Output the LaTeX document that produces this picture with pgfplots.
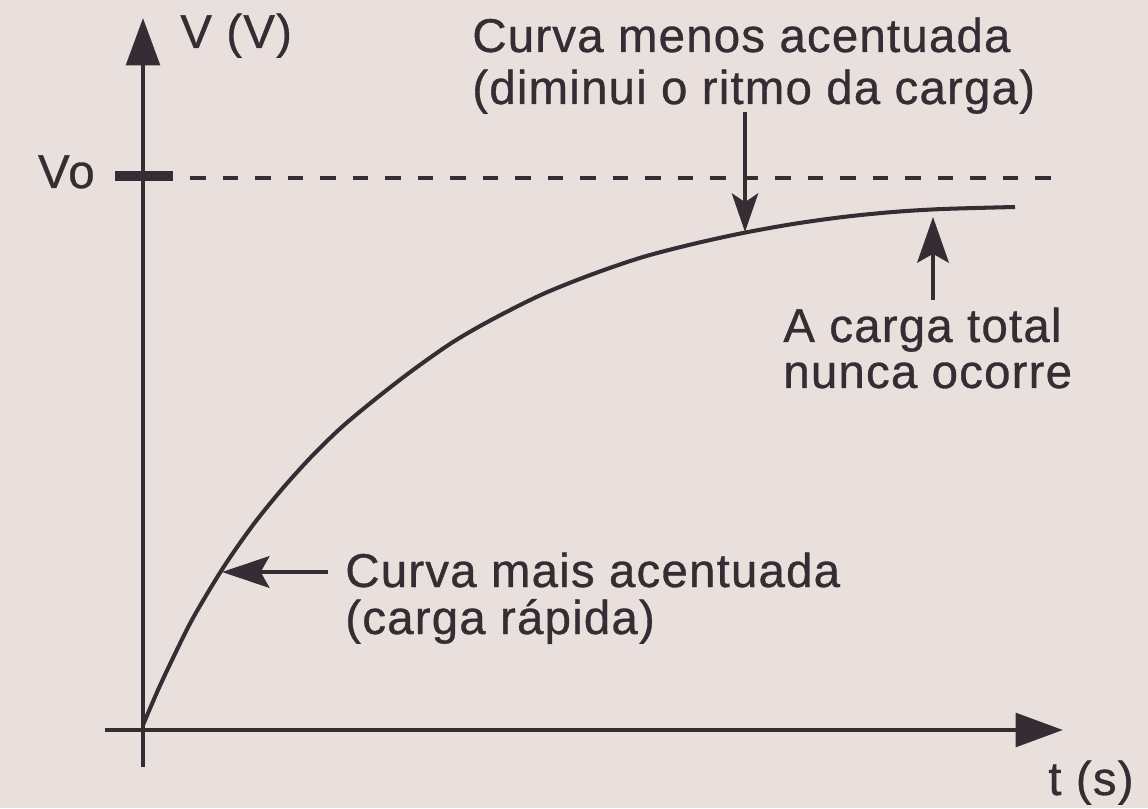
\documentclass[border=0pt]{standalone}
\usepackage{pgfplots}
\pgfplotsset{compat=1.18}
\usepackage{fontspec}
\setmainfont[FakeBold=0.7, LetterSpace=2.5]{Liberation Sans}
\usetikzlibrary{arrows.meta}
\definecolor{paper}{RGB}{233,224,222}
\definecolor{ink}{RGB}{52,46,52}
\tikzset{lab/.style={text=ink, inner sep=0pt, font=\fontsize{27}{30}\selectfont}}

\begin{document}
\begin{tikzpicture}[x=0.02cm,y=0.02cm]
% paper background, same size as the scan
\fill[paper] (-143,-78) rectangle (1005,730);
\begin{axis}[
    anchor=origin, at={(0,0)},
    x=0.02cm, y=0.02cm,
    xmin=-38, xmax=920,
    ymin=-37, ymax=712,
    axis lines=middle,
    xtick=\empty, ytick=\empty,
    clip=false,
    axis line style={ink, line width=2.8pt},
    x axis line style={-{Triangle[length=27pt,width=19pt]}},
    y axis line style={-{Triangle[length=27pt,width=19pt]}},
]
% Vo level
\addplot[ink, line width=5.5pt] coordinates {(-28,554) (30,554)};
\addplot[ink, line width=2.2pt, dash pattern=on 9pt off 9.5pt] coordinates {(47,552) (915,552)};

% charging curve
\addplot[ink, line width=2.3pt, smooth] coordinates {
    (0,5) (15,40) (30,72) (50,112) (80,162) (110,205) (140,242)
    (170,275) (200,304) (235,333) (270,360) (310,388) (350,411)
    (400,436) (450,456) (500,473) (550,486) (600,497) (650,506)
    (700,513) (750,518) (800,521) (872,523)
};

% labels
\node[lab, anchor=base west] at (axis cs:37,682) {V (V)};
\node[lab, anchor=base east] at (axis cs:-48,542) {Vo};
\node[lab, anchor=base west] at (axis cs:905,-65) {t (s)};

\node[lab, anchor=base west, text depth=0pt] at (axis cs:329,678) {Curva menos acentuada};
\node[lab, anchor=base west] at (axis cs:329,626) {(diminui o ritmo da carga)};
\draw[ink, line width=2.2pt, -{Stealth[length=22pt,width=15pt,inset=5pt]}]
    (axis cs:602,618) -- (axis cs:602,498);

\node[lab, anchor=base west, text depth=0pt] at (axis cs:640,388) {A carga total};
\node[lab, anchor=base west] at (axis cs:640,342) {nunca ocorre};
\draw[ink, line width=2.2pt, -{Stealth[length=26pt,width=18pt,inset=5pt]}]
    (axis cs:790,430) -- (axis cs:790,513);

\node[lab, anchor=base west, text depth=0pt] at (axis cs:202,143) {Curva mais acentuada};
\node[lab, anchor=base west, text height=17pt] at (axis cs:202,96) {(carga rápida)};
\draw[ink, line width=2.2pt, -{Stealth[length=27pt,width=18pt,inset=5pt]}]
    (axis cs:185,158) -- (axis cs:79,158);
\end{axis}
\end{tikzpicture}
\end{document}
